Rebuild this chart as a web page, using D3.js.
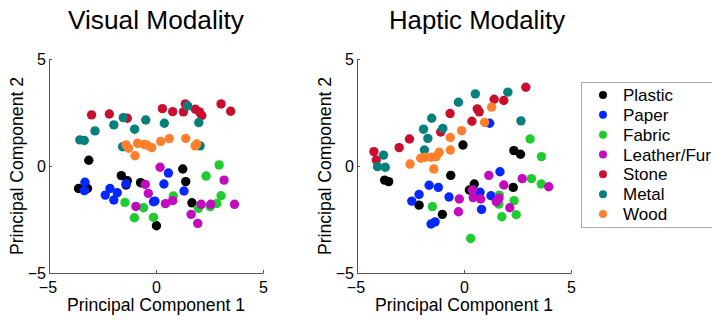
<!DOCTYPE html>
<html>
<head>
<meta charset="utf-8">
<script src="https://cdn.jsdelivr.net/npm/d3@7"></script>
<style>
  body { margin: 0; background: #fff; }
  svg { display: block; font-family: "Liberation Sans", Arial, sans-serif; }
</style>
</head>
<body>
<div id="chart"></div>
<script>
// materials and their colours (drawing order = legend order)
const materials = ['Plastic', 'Paper', 'Fabric', 'Leather/Fur', 'Stone', 'Metal', 'Wood'];
const colors = ['#000000', '#0527ff', '#1fcc2e', '#c40ac0', '#c8102e', '#07807c', '#ff7f2a'];
const tickValues = [-5, 0, 5];

// Visual modality: [PC1, PC2]
const visualPlastic = [[-3.14,0.27],[-3.62,-1.05],[-3.20,-1.05],[-1.62,-0.45],[-1.34,-0.69],[-1.40,-0.89],[-0.72,-0.78],[0.02,-2.79],[1.25,-0.14],[1.39,-0.73],[1.68,-1.72]];
const visualPaper = [[-3.32,-0.76],[-3.35,-1.15],[-2.37,-1.36],[-2.15,-1.05],[-1.97,-1.59],[-1.81,-1.25],[-1.40,-0.83],[-0.12,-1.67],[-0.05,-1.64],[0.37,-0.84],[0.58,-0.33],[1.31,-1.17]];
const visualFabric = [[-1.45,-1.70],[-1.01,-2.42],[-0.58,-1.95],[-0.12,-2.40],[0.81,-1.40],[1.98,-1.98],[2.34,-0.47],[2.53,-1.90],[2.84,-1.75],[2.95,0.05],[3.04,-1.39]];
const visualLeather = [[0.19,-0.06],[-0.50,-0.86],[-0.36,-1.28],[-0.94,-1.89],[0.44,-1.76],[0.78,-1.62],[1.64,-2.26],[1.95,-2.68],[2.11,-1.79],[2.56,-1.79],[3.18,-0.66],[3.67,-1.79]];
const visualStone = [[-3.01,2.39],[-2.18,2.43],[-1.34,2.23],[0.30,2.68],[0.78,2.54],[1.28,2.53],[1.37,2.90],[1.84,2.65],[2.03,2.53],[2.14,2.36],[3.04,2.90],[3.49,2.56]];
const visualMetal = [[-3.56,1.22],[-3.35,1.19],[-2.85,1.64],[-1.97,1.92],[-1.53,2.26],[-1.00,1.72],[-0.48,2.15],[0.39,2.00],[1.48,2.81],[2.00,2.03],[-1.56,0.90],[2.06,0.94]];
const visualWood = [[-1.40,0.98],[-1.28,0.83],[-0.98,0.48],[-0.86,1.06],[-0.56,1.01],[-0.41,0.97],[-0.20,0.86],[0.22,1.15],[0.62,1.28],[1.39,1.29],[1.83,0.94],[1.90,1.03]];

// Haptic modality: [PC1, PC2]
const hapticPlastic = [[-3.71,-0.66],[-3.52,-0.73],[-2.10,-1.83],[-1.01,-2.26],[-0.62,-0.44],[-0.05,0.98],[0.25,-1.12],[0.48,-0.84],[2.33,0.72],[2.64,0.55],[2.30,-1.00]];
const hapticPaper = [[-2.44,-1.64],[-2.10,-1.33],[-1.63,-0.90],[-1.20,-1.00],[-0.70,-1.45],[-1.54,-2.71],[-1.35,-2.61],[0.75,-1.23],[0.82,-2.03],[1.26,-1.39],[1.68,-0.27],[1.20,2.00]];
const hapticFabric = [[-1.48,-1.90],[0.31,-3.39],[1.65,-1.36],[1.63,-1.78],[1.77,-2.37],[2.34,-1.62],[2.44,-2.28],[3.09,1.26],[3.15,-0.59],[3.62,0.44],[3.61,-0.84]];
const hapticLeather = [[1.16,-0.44],[1.86,-0.89],[2.72,-0.59],[3.96,-0.97],[-0.22,-1.54],[-0.26,-2.14],[0.40,-1.12],[0.43,-1.48],[0.78,-1.54],[1.51,-1.67],[1.63,-1.51],[2.14,-1.95]];
const hapticStone = [[-4.21,0.67],[-4.10,0.28],[-3.03,0.86],[-2.55,1.26],[-1.09,1.59],[-0.65,2.45],[0.37,2.09],[0.62,2.67],[0.71,2.53],[1.41,3.12],[1.86,3.06],[2.89,3.68]];
const hapticMetal = [[-3.76,0.51],[-4.04,-0.03],[-3.68,-0.06],[-1.85,0.75],[-1.89,1.72],[-1.69,1.29],[-1.51,2.23],[-0.99,1.76],[-0.26,2.98],[0.53,3.37],[2.05,3.45],[2.66,2.11]];
const hapticWood = [[-2.52,0.09],[-2.02,0.36],[-1.82,0.41],[-1.54,0.41],[-1.30,0.44],[-1.16,0.64],[-1.41,-0.14],[-0.64,0.75],[-0.64,1.33],[-0.11,1.65],[0.96,2.04],[1.29,2.75]];

const visualSeries = [visualPlastic, visualPaper, visualFabric, visualLeather, visualStone, visualMetal, visualWood];
const hapticSeries = [hapticPlastic, hapticPaper, hapticFabric, hapticLeather, hapticStone, hapticMetal, hapticWood];

const width = 712, height = 321;
const svg = d3.select('#chart').append('svg')
    .attr('width', width)
    .attr('height', height);

const color = d3.scaleOrdinal().domain(materials).range(colors);

function scatter(opts) {
    const x = d3.scaleLinear().domain([-5, 5]).range([opts.left, opts.left + 214]);
    const y = d3.scaleLinear().domain([-5, 5]).range([273, 59]);

    const g = svg.append('g');

    // axes (MATLAB style: inward ticks, no box)
    const xAxis = d3.axisBottom(x).tickValues(tickValues).tickSizeInner(-3).tickSizeOuter(0).tickPadding(9);
    const yAxis = d3.axisLeft(y).tickValues(tickValues).tickSizeInner(-3).tickSizeOuter(0).tickPadding(3);

    const gx = g.append('g').attr('transform', 'translate(0,273)').call(xAxis);
    const gy = g.append('g').attr('transform', 'translate(' + opts.left + ',0)').call(yAxis);
    [gx, gy].forEach(a => {
        a.select('.domain').attr('stroke', '#555');
        a.selectAll('.tick line').attr('stroke', '#555');
        a.selectAll('.tick text').attr('fill', '#000').style('font-size', '16px')
            .style('font-family', '"Liberation Sans", Arial, sans-serif');
    });
    gx.select('.tick text').attr('dx', '-0.1em');

    // points
    opts.series.forEach((pts, i) => {
        g.append('g').selectAll('circle')
            .data(pts)
            .join('circle')
            .attr('cx', d => x(d[0]))
            .attr('cy', d => y(d[1]))
            .attr('r', 4.7)
            .attr('fill', color(materials[i]));
    });

    // title
    g.append('text')
        .attr('x', opts.titleX)
        .attr('y', 29)
        .attr('text-anchor', 'middle')
        .attr('textLength', 176)
        .attr('lengthAdjust', 'spacingAndGlyphs')
        .style('font-size', '26px')
        .text(opts.title);

    // axis labels
    g.append('text')
        .attr('x', opts.left + 107)
        .attr('y', 311)
        .attr('text-anchor', 'middle')
        .attr('textLength', 178)
        .attr('lengthAdjust', 'spacingAndGlyphs')
        .style('font-size', '18px')
        .text('Principal Component 1');

    g.append('text')
        .attr('transform', 'translate(' + opts.yLabelX + ',166) rotate(-90)')
        .attr('text-anchor', 'middle')
        .attr('textLength', 178)
        .attr('lengthAdjust', 'spacingAndGlyphs')
        .style('font-size', '18px')
        .text('Principal Component 2');
}

scatter({ left: 49, series: visualSeries, title: 'Visual Modality', titleX: 156, yLabelX: 23 });
scatter({ left: 357, series: hapticSeries, title: 'Haptic Modality', titleX: 477, yLabelX: 331 });

// legend
const legend = svg.append('g');
legend.append('rect')
    .attr('x', 581.5).attr('y', 82.5)
    .attr('width', 150).attr('height', 145)
    .attr('fill', '#fff')
    .attr('stroke', '#aaa');

const rowY = d3.scalePoint().domain(materials).range([95, 214]);
const rows = legend.selectAll('.row')
    .data(materials)
    .join('g')
    .attr('class', 'row')
    .attr('transform', d => 'translate(0,' + rowY(d) + ')');
rows.append('circle')
    .attr('cx', 603).attr('cy', 0).attr('r', 4)
    .attr('fill', d => color(d));
rows.append('text')
    .attr('x', 623).attr('y', 6)
    .style('font-size', '17px')
    .text(d => d);
</script>
</body>
</html>
